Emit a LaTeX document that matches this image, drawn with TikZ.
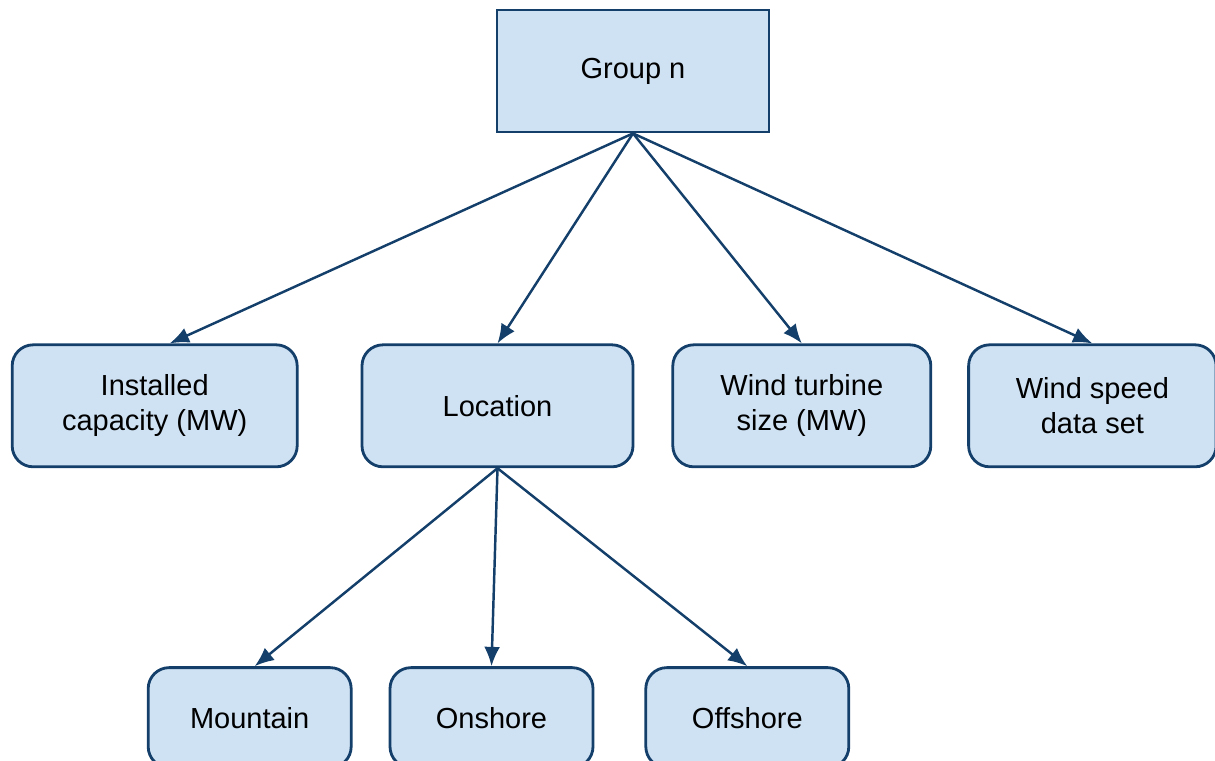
\documentclass[tikz,border=0pt]{standalone}
\usepackage{fontspec}
\setmainfont{Liberation Sans}
\usepackage{tikz}
\usetikzlibrary{shapes,arrows.meta,positioning}
\definecolor{boxfill}{HTML}{CFE2F3}
\definecolor{boxline}{HTML}{133F6A}

\begin{document}
\begin{tikzpicture}[
  top/.style={draw=boxline, line width=1.6pt, rectangle, fill=boxfill, text centered, minimum width=5.44cm, minimum height=2.44cm, font=\fontsize{16.5}{20}\selectfont},
  box/.style={draw=boxline, line width=1.6pt, rectangle, rounded corners=0.42cm, fill=boxfill, align=center, minimum height=2.44cm, font=\fontsize{16.5}{20}\selectfont},
  subbox/.style={box, minimum width=4.06cm, minimum height=2.0cm},
  line/.style={draw=boxline, line width=1.4pt, -{Latex[length=11pt,width=9pt]}}
]
\useasboundingbox (0,0) rectangle (24.3,-15.2);

% Goal
\node[top] (group) at (12.66,-1.42) {Group n};

% Level 1
\node[box, minimum width=5.42cm, below=4.2cm of group, xshift=-2.71cm] (loc) {Location};
\node[box, minimum width=5.7cm, left=1.24cm of loc] (cap) {Installed\\capacity (MW)};
\node[box, minimum width=5.16cm, right=0.74cm of loc] (size) {Wind turbine\\size (MW)};
\node[box, minimum width=4.95cm, right=0.7cm of size] (data) {Wind speed\\data set};

% Level 2
\node[subbox, below=3.96cm of loc, xshift=-0.12cm] (on) {Onshore};
\node[subbox, left=0.72cm of on] (mount) {Mountain};
\node[subbox, right=1.0cm of on] (off) {Offshore};

% Connectors
\path[line] (group.south) -- ([xshift=0.3cm]cap.north);
\path[line] (group.south) -- (loc.north);
\path[line] (group.south) -- (size.north);
\path[line] (group.south) -- (data.north);

\path[line] (loc.south) -- ([xshift=0.1cm]mount.north);
\path[line] (loc.south) -- (on.north);
\path[line] (loc.south) -- (off.north);

\end{tikzpicture}
\end{document}
